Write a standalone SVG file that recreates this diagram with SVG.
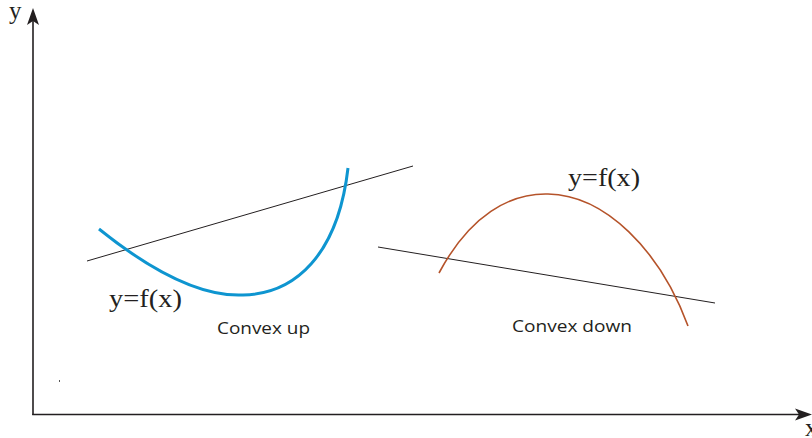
<svg xmlns="http://www.w3.org/2000/svg" width="812" height="438" viewBox="0 0 812 438">
<style>
.ax{stroke:#231f20;stroke-width:1.6;fill:none}
.tan{stroke:#231f20;stroke-width:1;fill:none}
.serif{font-family:"Liberation Serif","Times New Roman",serif;fill:#231f20}
.sans{font-family:"Open Sans","Liberation Sans",sans-serif;fill:#231f20;font-size:17px}
</style>
<rect width="812" height="438" fill="#fff"/>
<g id="axes">
<line class="ax" x1="33" y1="415" x2="33" y2="16"/>
<line class="ax" x1="32.2" y1="414.5" x2="802" y2="414.5"/>
<path d="M33,8 L39,25 L33,21 L27,25 Z" fill="#231f20"/>
<path d="M812,414.5 L795,408.5 L799,414.5 L795,420.5 Z" fill="#231f20"/>
<text class="serif" x="9" y="19" font-size="25">y</text>
<text class="serif" x="805" y="436" font-size="25">x</text>
<rect x="59" y="380" width="1" height="2" fill="#555"/>
</g>
<g id="convex-up">
<line class="tan" x1="87" y1="261" x2="413" y2="166"/>
<path d="M99,229 C150,270 200,297 243,295 C295,294 338,255 348,168" stroke="#0e95d0" stroke-width="3" fill="none"/>
<text class="serif" x="109" y="307" font-size="25" textLength="73" lengthAdjust="spacingAndGlyphs">y=f(x)</text>
<text class="sans" x="217" y="334" textLength="93" lengthAdjust="spacingAndGlyphs">Convex up</text>
</g>
<g id="convex-down">
<line class="tan" x1="378" y1="247" x2="715" y2="303"/>
<path d="M439,273 C470,215 510,193 548,194 C605,195 660,250 688,326" stroke="#b5532a" stroke-width="1.6" fill="none"/>
<text class="serif" x="568" y="186" font-size="25" textLength="72" lengthAdjust="spacingAndGlyphs">y=f(x)</text>
<text class="sans" x="512" y="332" textLength="120" lengthAdjust="spacingAndGlyphs">Convex down</text>
</g>
</svg>
